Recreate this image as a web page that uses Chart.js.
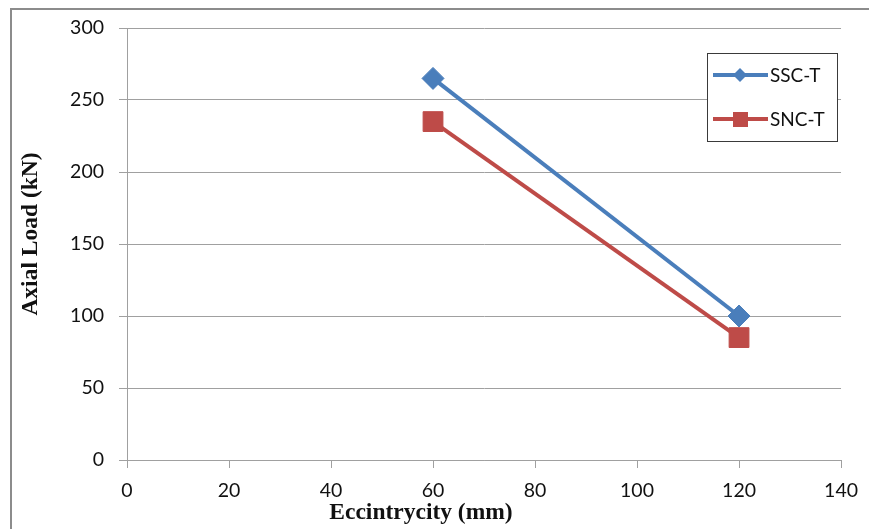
<!DOCTYPE html>
<html>
<head>
<meta charset="utf-8">
<script src="https://cdn.jsdelivr.net/npm/chart.js@4.4.1/dist/chart.umd.min.js"></script>
<style>
  html, body { margin: 0; padding: 0; background: #fff; }
  #wrap { width: 869px; height: 529px; position: relative; }
</style>
</head>
<body>
<div id="wrap"><canvas id="chart" width="869" height="529"></canvas></div>
<script>
const eccentricity = [60, 120];
const sscT = [265, 100];
const sncT = [235, 85];
const seriesNames = ['SSC-T', 'SNC-T'];
const xTicks = [0, 20, 40, 60, 80, 100, 120, 140];
const yTicks = [0, 50, 100, 150, 200, 250, 300];
const xTitle = 'Eccintrycity (mm)';
const yTitle = 'Axial Load (kN)';

const blue = '#4A7EBB';
const red = '#BE4B48';
const gridGray = '#a0a0a0';
const tickFont = { family: 'Lato', size: 19.5 };

// white background + outer frame
const frame = {
  id: 'frame',
  beforeDraw(chart) {
    const ctx = chart.ctx;
    ctx.save();
    ctx.fillStyle = '#fff';
    ctx.fillRect(0, 0, chart.width, chart.height);
    ctx.strokeStyle = '#8c8c8c';
    ctx.lineWidth = 2;
    ctx.strokeRect(11, 9, 900, 600);
    ctx.restore();
  }
};

// axis titles placed like the original
const axisTitles = {
  id: 'axisTitles',
  afterDraw(chart) {
    const ctx = chart.ctx;
    ctx.save();
    ctx.fillStyle = '#111';
    ctx.font = 'bold 23.5px "Liberation Serif"';
    ctx.textAlign = 'center';
    ctx.textBaseline = 'middle';
    ctx.fillText(xTitle, 421, 513);
    ctx.translate(31, 234);
    ctx.rotate(-Math.PI / 2);
    ctx.fillText(yTitle, 0, 0);
    ctx.restore();
  }
};

// boxed legend on the right
const boxLegend = {
  id: 'boxLegend',
  afterDraw(chart) {
    const ctx = chart.ctx;
    ctx.save();
    ctx.strokeStyle = '#3a3a3a';
    ctx.lineWidth = 1;
    ctx.fillStyle = '#fff';
    ctx.fillRect(707, 53, 130, 88);
    ctx.strokeRect(707.5, 53.5, 130, 88);
    chart.data.datasets.forEach((ds, i) => {
      const y = 75 + i * 44;
      ctx.strokeStyle = ds.borderColor;
      ctx.lineWidth = 4;
      ctx.beginPath();
      ctx.moveTo(713, y);
      ctx.lineTo(768, y);
      ctx.stroke();
      ctx.fillStyle = ds.backgroundColor;
      ctx.beginPath();
      if (ds.pointStyle === 'rectRot') {
        ctx.moveTo(740, y - 7);
        ctx.lineTo(747, y);
        ctx.lineTo(740, y + 7);
        ctx.lineTo(733, y);
        ctx.closePath();
      } else {
        ctx.rect(733, y - 7, 15, 15);
      }
      ctx.fill();
      ctx.fillStyle = '#111';
      ctx.font = '19px Lato';
      ctx.textAlign = 'left';
      ctx.textBaseline = 'middle';
      ctx.fillText(ds.label, 770, y + 1);
    });
    ctx.restore();
  }
};

new Chart(document.getElementById('chart'), {
  type: 'line',
  data: {
    datasets: [
      {
        label: seriesNames[0],
        data: eccentricity.map((x, i) => ({ x: x, y: sscT[i] })),
        borderColor: blue,
        backgroundColor: blue,
        borderWidth: 4,
        pointStyle: 'rectRot',
        pointRadius: 11,
        pointBorderWidth: 1,
        pointHoverRadius: 11,
        tension: 0
      },
      {
        label: seriesNames[1],
        data: eccentricity.map((x, i) => ({ x: x, y: sncT[i] })),
        borderColor: red,
        backgroundColor: red,
        borderWidth: 4,
        pointStyle: 'rect',
        pointRadius: 14,
        pointBorderWidth: 1,
        pointHoverRadius: 14,
        tension: 0
      }
    ]
  },
  options: {
    responsive: false,
    animation: false,
    layout: { padding: { left: 0, right: 27, top: 28, bottom: 0 } },
    plugins: {
      legend: { display: false },
      tooltip: { enabled: false },
      title: { display: false }
    },
    scales: {
      x: {
        type: 'linear',
        min: 0,
        max: 140,
        afterBuildTicks: scale => { scale.ticks = xTicks.map(v => ({ value: v })); },
        afterFit: scale => { scale.height = 69; },
        grid: { drawOnChartArea: false, color: gridGray, tickLength: 8 },
        border: { color: gridGray },
        ticks: { font: tickFont, color: '#111', padding: 11, maxRotation: 0 }
      },
      y: {
        min: 0,
        max: 300,
        afterBuildTicks: scale => { scale.ticks = yTicks.map(v => ({ value: v })); },
        afterFit: scale => { scale.width = 127; },
        grid: { color: gridGray, tickLength: 8 },
        border: { color: gridGray },
        ticks: { font: tickFont, color: '#111', padding: 15 }
      }
    }
  },
  plugins: [frame, axisTitles, boxLegend]
});
</script>
</body>
</html>
